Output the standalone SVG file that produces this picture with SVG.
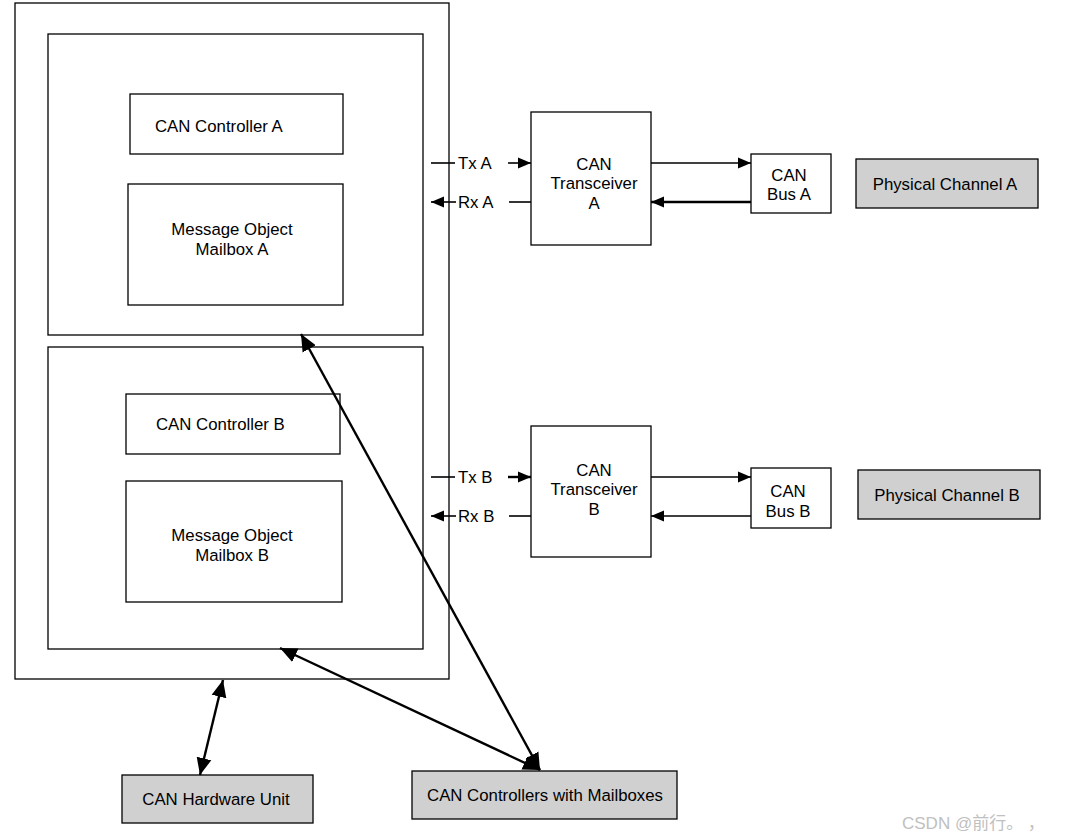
<svg xmlns="http://www.w3.org/2000/svg" width="1065" height="839" viewBox="0 0 1065 839">
<style>
.box{fill:#fff;stroke:#000;stroke-width:1.3}
.gray{fill:#d0d0d0;stroke:#000;stroke-width:1.3}
text{font-family:"Liberation Sans",Arial,sans-serif;font-size:16.8px;fill:#000}
.c{text-anchor:middle}
.ln{stroke:#000;stroke-width:1.6;fill:none}
.thick{stroke:#000;stroke-width:2.4;fill:none}
</style>
<defs>
<marker id="ah" markerUnits="userSpaceOnUse" markerWidth="14" markerHeight="12" refX="13" refY="6" orient="auto-start-reverse">
<path d="M0,0.5 L13,6 L0,11.5 z" fill="#000"/>
</marker>
<marker id="big" markerUnits="userSpaceOnUse" markerWidth="18" markerHeight="16" refX="17" refY="8" orient="auto-start-reverse">
<path d="M0,0.5 L17,8 L0,15.5 z" fill="#000"/>
</marker>
</defs>
<rect width="1065" height="839" fill="#fff"/>
<g id="can-unit-outer"><rect class="box" x="15" y="3" width="434" height="676"/></g>
<g id="channel-a-block"><rect class="box" x="48" y="34" width="375" height="301"/></g>
<g id="channel-b-block"><rect class="box" x="48" y="347" width="375" height="302"/></g>
<g id="controller-a"><rect class="box" x="130" y="94" width="213" height="60"/><text x="155" y="132">CAN Controller A</text></g>
<g id="mailbox-a"><rect class="box" x="128" y="184" width="215" height="121"/><text class="c" x="232" y="235">Message Object</text><text class="c" x="232" y="255">Mailbox A</text></g>
<g id="controller-b"><rect class="box" x="126" y="394" width="214" height="60"/><text x="156" y="430">CAN Controller B</text></g>
<g id="mailbox-b"><rect class="box" x="126" y="481" width="216" height="121"/><text class="c" x="232" y="541">Message Object</text><text class="c" x="232" y="561">Mailbox B</text></g>
<g id="transceiver-a"><rect class="box" x="531" y="112" width="120" height="133"/><text class="c" x="594" y="170">CAN</text><text class="c" x="594" y="189">Transceiver</text><text class="c" x="594" y="209">A</text></g>
<g id="bus-a"><rect class="box" x="751" y="154" width="80" height="59"/><text class="c" x="789" y="181">CAN</text><text class="c" x="789" y="200">Bus A</text></g>
<g id="physical-a"><rect class="gray" x="856" y="159" width="182" height="49"/><text class="c" x="945" y="190">Physical Channel A</text></g>
<g id="transceiver-b"><rect class="box" x="531" y="426" width="120" height="131"/><text class="c" x="594" y="476">CAN</text><text class="c" x="594" y="495">Transceiver</text><text class="c" x="594" y="515">B</text></g>
<g id="bus-b"><rect class="box" x="751" y="468" width="80" height="60"/><text class="c" x="788" y="497">CAN</text><text class="c" x="788" y="517">Bus B</text></g>
<g id="physical-b"><rect class="gray" x="858" y="470" width="182" height="49"/><text class="c" x="947" y="501">Physical Channel B</text></g>
<g id="hardware-unit"><rect class="gray" x="122" y="775" width="191" height="48"/><text class="c" x="216" y="805">CAN Hardware Unit</text></g>
<g id="controllers-mailboxes"><rect class="gray" x="412" y="771" width="265" height="48"/><text class="c" x="545" y="801">CAN Controllers with Mailboxes</text></g>
<g id="connectors">
<line class="ln" x1="431" y1="163" x2="455" y2="163"/>
<text x="458" y="169">Tx A</text>
<line class="ln" x1="508" y1="163" x2="531" y2="163" marker-end="url(#ah)"/>
<line class="ln" x1="456" y1="202" x2="431" y2="202" marker-end="url(#ah)"/>
<text x="458" y="208">Rx A</text>
<line class="ln" x1="509" y1="202" x2="531" y2="202"/>
<line class="ln" x1="651" y1="163" x2="751" y2="163" marker-end="url(#ah)"/>
<line class="thick" x1="751" y1="202" x2="651" y2="202" marker-end="url(#ah)"/>
<line class="ln" x1="431" y1="477" x2="455" y2="477"/>
<text x="458" y="483">Tx B</text>
<line class="thick" x1="508" y1="477" x2="531" y2="477" marker-end="url(#ah)"/>
<line class="ln" x1="456" y1="516" x2="431" y2="516" marker-end="url(#ah)"/>
<text x="458" y="522">Rx B</text>
<line class="ln" x1="509" y1="516" x2="531" y2="516"/>
<line class="ln" x1="651" y1="477" x2="751" y2="477" marker-end="url(#ah)"/>
<line class="ln" x1="751" y1="516" x2="651" y2="516" marker-end="url(#ah)"/>
<line class="thick" x1="223" y1="680" x2="200" y2="775" marker-start="url(#big)" marker-end="url(#big)"/>
<line class="thick" x1="280" y1="648" x2="540" y2="770" marker-start="url(#big)" marker-end="url(#big)"/>
<line class="thick" x1="301" y1="334" x2="540" y2="770" marker-start="url(#big)" marker-end="url(#big)"/>
</g>
<text x="902" y="829" style="fill:#c0c0c0;font-family:'Liberation Sans','Noto Sans CJK SC',sans-serif;font-size:17px">CSDN @前行。 ，</text>
</svg>
